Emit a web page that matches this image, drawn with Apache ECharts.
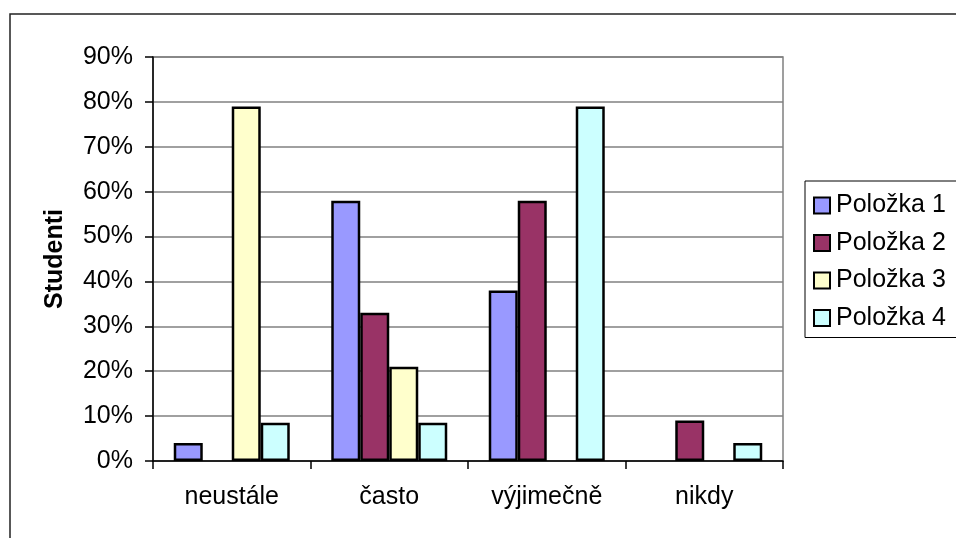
<!DOCTYPE html>
<html>
<head>
<meta charset="utf-8">
<script src="https://cdn.jsdelivr.net/npm/echarts@6/dist/echarts.min.js"></script>
<style>
  html, body { margin: 0; padding: 0; background: #fff; }
  #chart { width: 956px; height: 538px; }
</style>
</head>
<body>
<div id="chart"></div>
<script>
// Categories and answers (share of students, %)
const categories = ['neustále', 'často', 'výjimečně', 'nikdy'];
const seriesNames = ['Položka 1', 'Položka 2', 'Položka 3', 'Položka 4'];
const polozka1 = [4, 58, 38, 0];
const polozka2 = [0, 33, 58, 9];
const polozka3 = [79, 21, 0, 0];
const polozka4 = [8.5, 8.5, 79, 4];
const yTicks = [0, 10, 20, 30, 40, 50, 60, 70, 80, 90];

const colors = ['#9999FF', '#993366', '#FFFFCC', '#CCFFFF'];
const values = [polozka1, polozka2, polozka3, polozka4];
const FONT = '"Liberation Sans", Arial, sans-serif';

const chart = echarts.init(document.getElementById('chart'));
chart.setOption({
  animation: false,
  backgroundColor: '#fff',
  graphic: [{
    type: 'rect',
    shape: { x: 10, y: 14, width: 1000, height: 600 },
    style: { fill: 'none', stroke: '#222', lineWidth: 1.5 },
    z: 0
  }],
  grid: {
    left: 153, top: 57, right: 173, bottom: 77,
    show: true, borderColor: '#808080', borderWidth: 1.5
  },
  legend: {
    orient: 'vertical',
    left: 805, top: 181,
    padding: [12, 20, 7, 8],
    itemGap: 12.5,
    itemWidth: 16, itemHeight: 16,
    icon: 'rect',
    backgroundColor: '#fff',
    borderColor: '#000', borderWidth: 1,
    itemStyle: { borderColor: '#000', borderWidth: 2 },
    textStyle: { fontFamily: FONT, fontSize: 25, color: '#000', padding: [0, 0, 0, 1] },
    data: seriesNames
  },
  xAxis: {
    type: 'category',
    data: categories,
    axisLine: { lineStyle: { color: '#000', width: 1.5 } },
    axisTick: { show: true, length: 8, lineStyle: { color: '#000', width: 1.5 } },
    axisLabel: { fontFamily: FONT, fontSize: 25, color: '#000', margin: 24 },
    splitLine: { show: false }
  },
  yAxis: {
    type: 'value',
    min: yTicks[0], max: yTicks[yTicks.length - 1], interval: 10,
    name: 'Studenti',
    nameLocation: 'middle',
    nameGap: 85,
    nameRotate: 90,
    nameTextStyle: { fontFamily: FONT, fontSize: 25, fontWeight: 'bold', color: '#000' },
    axisLine: { show: true, lineStyle: { color: '#000', width: 1.5 } },
    axisTick: { show: true, length: 8, lineStyle: { color: '#000', width: 1.5 } },
    axisLabel: { fontFamily: FONT, fontSize: 25, color: '#000', margin: 20, formatter: '{value}%' },
    splitLine: { lineStyle: { color: '#808080', width: 1.5 } }
  },
  // zero answers leave an empty slot instead of a flat outlined bar
  series: seriesNames.map((name, i) => ({
    name,
    type: 'bar',
    data: values[i].map(v => (v === 0 ? '-' : v)),
    barWidth: 29,
    barGap: '0%',
    itemStyle: { color: colors[i], borderColor: '#000', borderWidth: 2.5 }
  }))
});
</script>
</body>
</html>
